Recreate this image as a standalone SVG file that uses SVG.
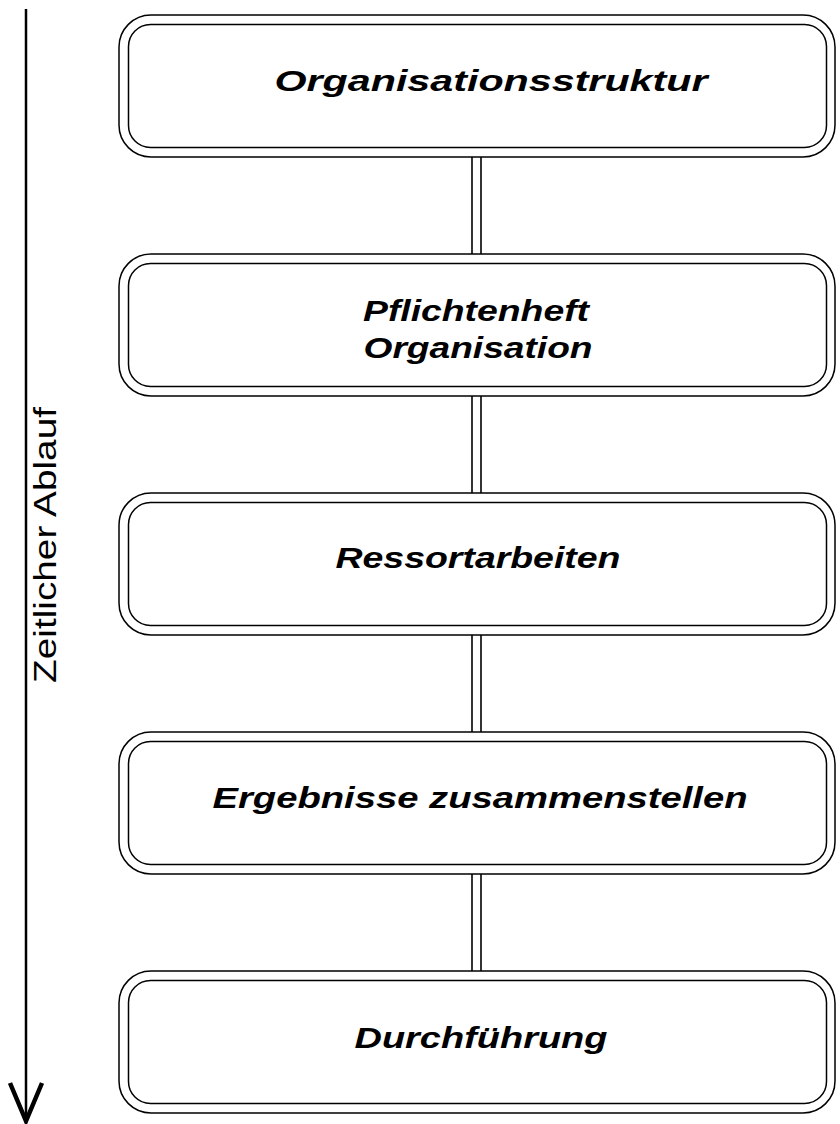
<svg xmlns="http://www.w3.org/2000/svg" width="840" height="1124" viewBox="0 0 840 1124">
<style>
.o{fill:none;stroke:#000;stroke-width:1.5}
.c{stroke:#000;stroke-width:1.6}
.t{font-family:"Liberation Sans",Arial,sans-serif;font-weight:bold;font-style:italic;font-size:29px;text-anchor:middle;fill:#000}
.a{font-family:"Liberation Sans",Arial,sans-serif;font-size:31px;text-anchor:middle;fill:#000}
</style>
<rect width="840" height="1124" fill="#fff"/>
<g id="timeline">
<line x1="26" y1="9" x2="26" y2="1120" stroke="#000" stroke-width="2.5"/>
<polyline points="10,1083 26,1121 42,1083" fill="none" stroke="#000" stroke-width="4.5"/>
<text class="a" transform="translate(56,545) rotate(-90)" textLength="276" lengthAdjust="spacingAndGlyphs">Zeitlicher Ablauf</text>
</g>
<g id="connectors">
<line class="c" x1="472" y1="157" x2="472" y2="254"/><line class="c" x1="481" y1="157" x2="481" y2="254"/>
<line class="c" x1="472" y1="396" x2="472" y2="493"/><line class="c" x1="481" y1="396" x2="481" y2="493"/>
<line class="c" x1="472" y1="635" x2="472" y2="732"/><line class="c" x1="481" y1="635" x2="481" y2="732"/>
<line class="c" x1="472" y1="874" x2="472" y2="971"/><line class="c" x1="481" y1="874" x2="481" y2="971"/>
</g>
<g id="n1">
<rect class="o" x="119" y="15" width="716" height="142" rx="32"/>
<rect class="o" x="128.5" y="24.5" width="698" height="123" rx="22"/>
<text class="t" x="491" y="91" textLength="433" lengthAdjust="spacingAndGlyphs">Organisationsstruktur</text>
</g>
<g id="n2">
<rect class="o" x="119" y="254" width="716" height="142" rx="32"/>
<rect class="o" x="128.5" y="263.5" width="698" height="123" rx="22"/>
<text class="t" x="476" y="321" textLength="226" lengthAdjust="spacingAndGlyphs">Pflichtenheft</text>
<text class="t" x="478" y="358" textLength="229" lengthAdjust="spacingAndGlyphs">Organisation</text>
</g>
<g id="n3">
<rect class="o" x="119" y="493" width="716" height="142" rx="32"/>
<rect class="o" x="128.5" y="502.5" width="698" height="123" rx="22"/>
<text class="t" x="478" y="568" textLength="285" lengthAdjust="spacingAndGlyphs">Ressortarbeiten</text>
</g>
<g id="n4">
<rect class="o" x="119" y="732" width="716" height="142" rx="32"/>
<rect class="o" x="128.5" y="741.5" width="698" height="123" rx="22"/>
<text class="t" x="480" y="808" textLength="535" lengthAdjust="spacingAndGlyphs">Ergebnisse zusammenstellen</text>
</g>
<g id="n5">
<rect class="o" x="119" y="971" width="716" height="142" rx="32"/>
<rect class="o" x="128.5" y="980.5" width="698" height="123" rx="22"/>
<text class="t" x="481" y="1048" textLength="253" lengthAdjust="spacingAndGlyphs">Durchführung</text>
</g>
</svg>
